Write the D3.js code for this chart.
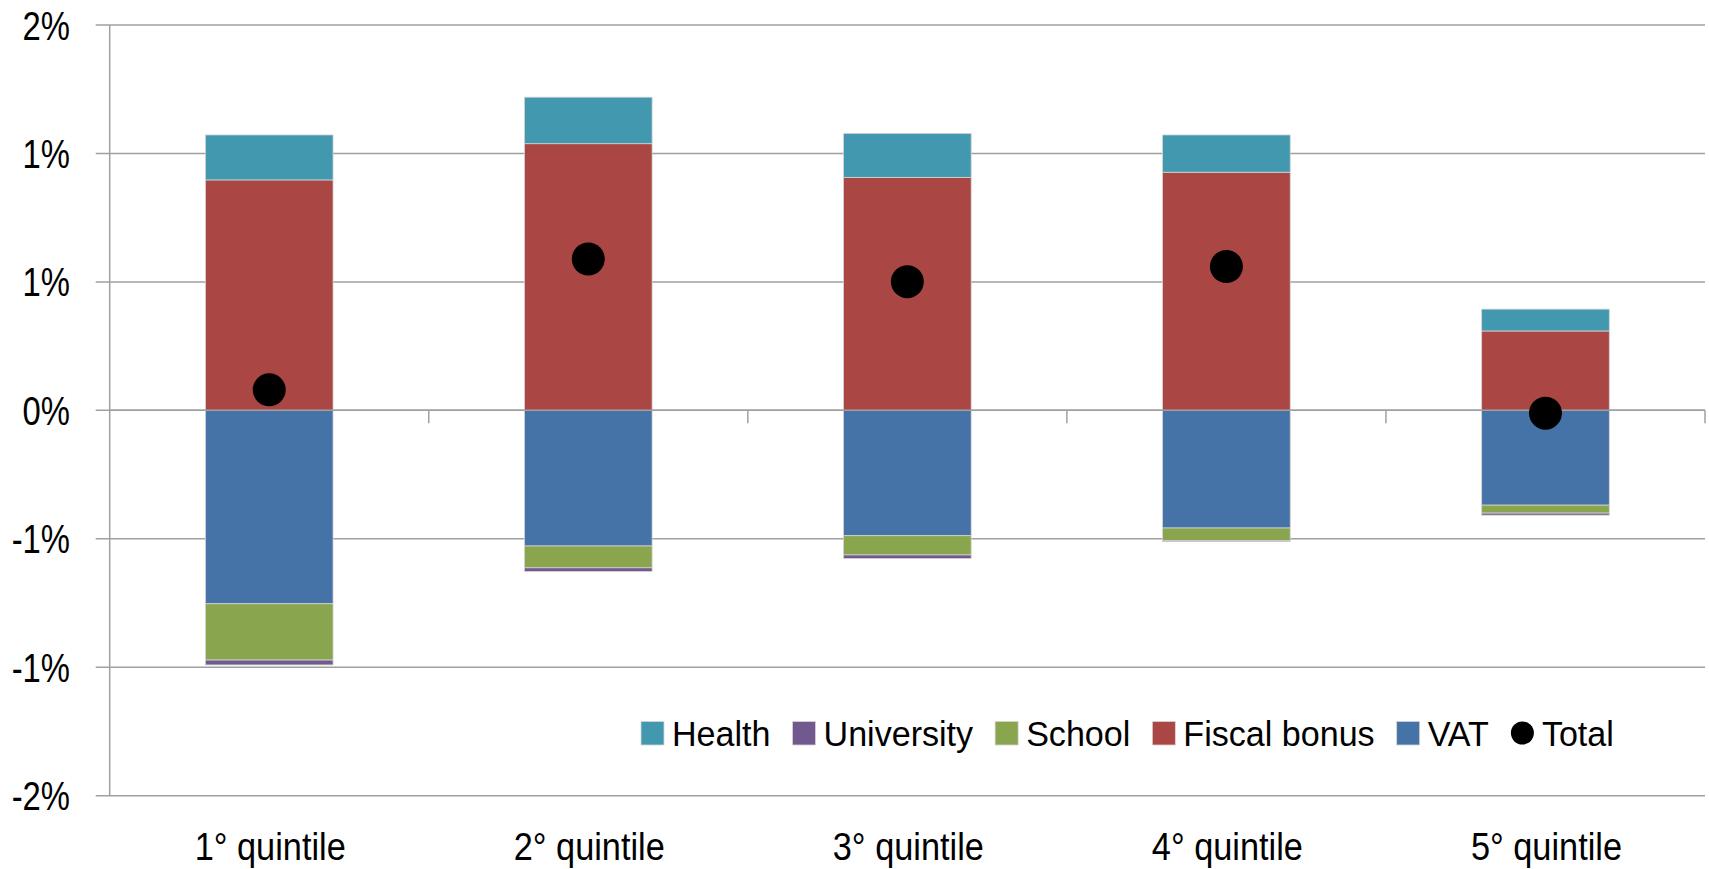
<!DOCTYPE html>
<html>
<head>
<meta charset="utf-8">
<script src="https://cdn.jsdelivr.net/npm/d3@7"></script>
<style>
  body { margin: 0; background: #fff; }
  text { font-family: "Liberation Sans", Arial, sans-serif; fill: #000; }
</style>
</head>
<body>
<div id="plot_area"></div>
<script>

// data (% values)
var categories = ["1° quintile", "2° quintile", "3° quintile", "4° quintile", "5° quintile"];
var health     = [0.175, 0.181, 0.171, 0.145, 0.085];
var university = [-0.019, -0.014, -0.014, -0.004, -0.008];
var school     = [-0.219, -0.085, -0.075, -0.049, -0.031];
var fiscal     = [0.897, 1.038, 0.907, 0.927, 0.309];
var vat        = [-0.753, -0.528, -0.488, -0.458, -0.369];
var total      = [0.080, 0.589, 0.501, 0.560, -0.011];

var tickValues = [-1.5, -1, -0.5, 0, 0.5, 1, 1.5];
var tickLabels = ["-2%", "-1%", "-1%", "0%", "1%", "1%", "2%"];

var legendNames  = ["Health", "University", "School", "Fiscal bonus", "VAT", "Total"];
var legendColors = ["#4198AF", "#71588F", "#89A54E", "#AA4643", "#4572A7", "#000000"];

// stacking order: first key sits next to zero
var stackKeys = ["VAT", "Fiscal bonus", "School", "University", "Health"];
var color = d3.scaleOrdinal().domain(legendNames).range(legendColors);

var rows = categories.map(function(c, i) {
  return { cat: c, "Health": health[i], "University": university[i], "School": school[i],
           "Fiscal bonus": fiscal[i], "VAT": vat[i], total: total[i] };
});

var W = 1709, H = 869;
var plotLeft = 109.7, plotRight = 1705, plotTop = 25, plotBottom = 795.7;

var svg = d3.select("#plot_area")
  .append("svg")
    .attr("width", W)
    .attr("height", H);

// shrink text horizontally (the original font is a narrow one), returns new width
function squeeze(sel, k) {
  var last = 0;
  sel.each(function() {
    var w = this.getComputedTextLength();
    last = w * k;
    d3.select(this).attr("textLength", last).attr("lengthAdjust", "spacingAndGlyphs");
  });
  return last;
}

var y = d3.scaleLinear().domain([-1.5, 1.5]).range([plotBottom, plotTop]);
var x = d3.scaleBand().domain(categories).range([plotLeft, plotRight]).paddingInner(0.6).paddingOuter(0.3);
var xCat = d3.scaleBand().domain(categories).range([plotLeft, plotRight]).padding(0);

// gridlines
svg.append("g")
  .selectAll("line")
  .data(tickValues)
  .enter()
  .append("line")
    .attr("x1", plotLeft - 14)
    .attr("x2", plotRight)
    .attr("y1", function(d) { return y(d); })
    .attr("y2", function(d) { return y(d); })
    .attr("stroke", "#a0a0a0")
    .attr("stroke-width", 1.5);

// Y axis line
svg.append("line")
  .attr("x1", plotLeft).attr("x2", plotLeft)
  .attr("y1", plotTop).attr("y2", plotBottom)
  .attr("stroke", "#a0a0a0")
  .attr("stroke-width", 1.5);

// Y labels
var yl = svg.append("g")
  .selectAll("text")
  .data(tickValues)
  .enter()
  .append("text")
    .attr("x", 70)
    .attr("y", function(d) { return y(d) + 14.5; })
    .attr("text-anchor", "end")
    .style("font-size", "41px")
    .text(function(d, i) { return tickLabels[i]; });
squeeze(yl, 0.8);

// category tick marks on the zero line
svg.append("g")
  .selectAll("line")
  .data(categories)
  .enter()
  .append("line")
    .attr("x1", function(d) { return xCat(d) + xCat.bandwidth(); })
    .attr("x2", function(d) { return xCat(d) + xCat.bandwidth(); })
    .attr("y1", y(0))
    .attr("y2", y(0) + 13)
    .attr("stroke", "#a0a0a0")
    .attr("stroke-width", 1.5);

// stacked bars
var series = d3.stack().keys(stackKeys).offset(d3.stackOffsetDiverging)(rows);

svg.append("g")
  .selectAll("g")
  .data(series)
  .enter()
  .append("g")
    .attr("fill", function(d) { return color(d.key); })
  .selectAll("rect")
  .data(function(d) { return d; })
  .enter()
  .append("rect")
    .attr("x", function(d) { return x(d.data.cat); })
    .attr("width", x.bandwidth())
    .attr("y", function(d) { return y(d[1]); })
    .attr("height", function(d) { return y(d[0]) - y(d[1]); })
    .attr("stroke", "#d4d4d4")
    .attr("stroke-width", 0.8);

// category axis line over bars' base
svg.append("line")
  .attr("x1", plotLeft).attr("x2", plotRight)
  .attr("y1", y(0)).attr("y2", y(0))
  .attr("stroke", "#a0a0a0")
  .attr("stroke-width", 1.5);

// total dots
svg.append("g")
  .selectAll("circle")
  .data(rows)
  .enter()
  .append("circle")
    .attr("cx", function(d) { return x(d.cat) + x.bandwidth() / 2; })
    .attr("cy", function(d) { return y(d.total); })
    .attr("r", 16.5)
    .attr("fill", "#000");

// category labels
var xl = svg.append("g")
  .selectAll("text")
  .data(categories)
  .enter()
  .append("text")
    .attr("x", function(d) { return xCat(d) + xCat.bandwidth() / 2 + 1; })
    .attr("y", 860)
    .attr("text-anchor", "middle")
    .style("font-size", "39px")
    .text(function(d) { return d; });
squeeze(xl, 0.88);

// legend
var lg = svg.append("g");
var lx = 641;
legendNames.forEach(function(name, i) {
  if (name == "Total") {
    lg.append("circle").attr("cx", lx + 11.5).attr("cy", 733).attr("r", 11.5).attr("fill", "#000");
  } else {
    lg.append("rect")
      .attr("x", lx).attr("y", 721.5)
      .attr("width", 23).attr("height", 23.5)
      .attr("fill", color(name))
      .attr("stroke", "#d4d4d4").attr("stroke-width", 0.8);
  }
  var t = lg.append("text")
    .attr("x", lx + 31)
    .attr("y", 746)
    .style("font-size", "35.5px")
    .text(name);
  var tw = squeeze(t, 0.96);
  lx = lx + 31 + tw + 22;
});

</script>
</body>
</html>
